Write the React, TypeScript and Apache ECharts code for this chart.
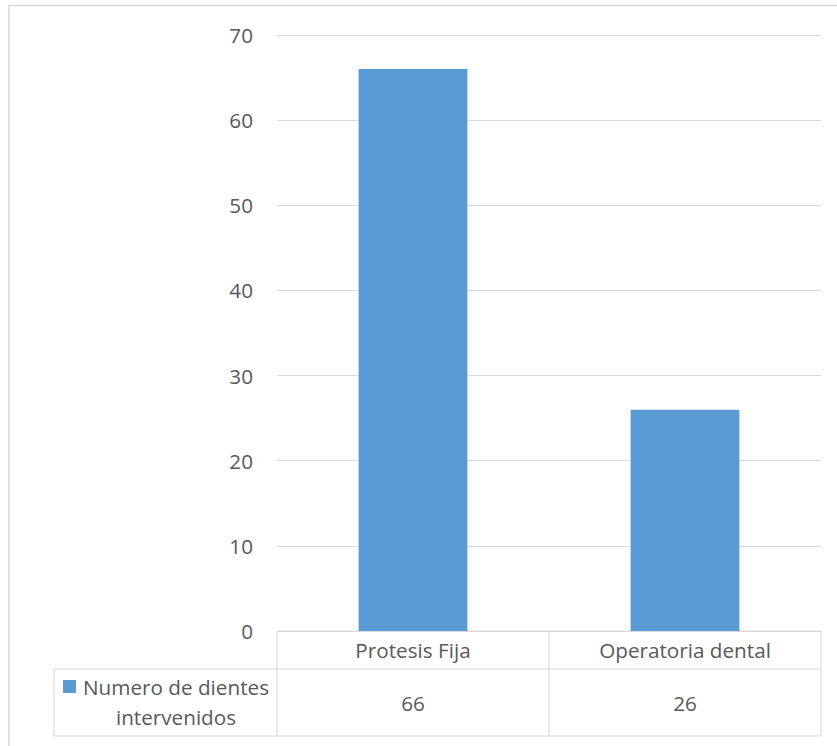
import React, { useEffect, useRef } from "react";
import * as echarts from "echarts";

// Chart data
const categories = ["Protesis Fija", "Operatoria dental"];
const seriesName = "Numero de dientes intervenidos";
const legendLines = ["Numero de dientes", "intervenidos"];
const values = [66, 26];
const yMin = 0;
const yMax = 70;
const yInterval = 10;

const FONT = "'Open Sans', 'Noto Sans', sans-serif";
const TEXT = "#595959";
const LINE = "#D9D9D9";
const BAR = "#5B9BD5";
const FS = 20.7;

export default function App() {
  const ref = useRef<HTMLDivElement>(null);

  useEffect(() => {
    const chart = echarts.init(ref.current!, null, { renderer: "svg" });
    chart.setOption({
      animation: false,
      backgroundColor: "#ffffff",
      grid: { left: 277, right: 16, top: 35, bottom: 115, containLabel: false },
      xAxis: {
        type: "category",
        data: categories,
        axisLine: { show: true, lineStyle: { color: LINE, width: 1 } },
        axisTick: { show: false },
        axisLabel: { show: false },
        splitLine: { show: false },
      },
      yAxis: {
        type: "value",
        min: yMin,
        max: yMax,
        interval: yInterval,
        axisLine: { show: false },
        axisTick: { show: false },
        axisLabel: { color: TEXT, fontFamily: FONT, fontSize: FS, margin: 24 },
        splitLine: { show: true, lineStyle: { color: LINE, width: 1 } },
      },
      series: [
        {
          name: seriesName,
          type: "bar",
          data: values,
          barCategoryGap: "60%",
          itemStyle: { color: BAR },
        },
      ],
    });

    // Data table under the plot, positioned from the axes
    const xs = categories.map(
      (c) => chart.convertToPixel({ xAxisIndex: 0 }, c) as number
    );
    const half = categories.length > 1 ? (xs[1] - xs[0]) / 2 : 136;
    const tableTop = chart.convertToPixel({ yAxisIndex: 0 }, 0) as number;
    const rowMid = tableTop + 38;
    const rowBottom = tableTop + 105;
    const left = xs[0] - half;
    const right = xs[xs.length - 1] + half;
    const legendLeft = 54;

    const lineStyle = { stroke: LINE, lineWidth: 1.2 };
    const elements: any[] = [];
    const hLine = (x1: number, x2: number, y: number) =>
      elements.push({ type: "line", shape: { x1, y1: y, x2, y2: y }, style: lineStyle, silent: true });
    const vLine = (x: number, y1: number, y2: number) =>
      elements.push({ type: "line", shape: { x1: x, y1, x2: x, y2 }, style: lineStyle, silent: true });

    // outer chart frame
    elements.push({
      type: "rect",
      shape: { x: 9, y: 5.5, width: 1000, height: 1000 },
      style: { fill: "none", stroke: LINE, lineWidth: 1.5 },
      silent: true,
    });

    hLine(left, right, tableTop);
    hLine(legendLeft, right, rowMid);
    hLine(legendLeft, right, rowBottom);
    vLine(legendLeft, rowMid, rowBottom);
    vLine(left, tableTop, rowBottom);
    xs.forEach((x) => vLine(x + half, tableTop, rowBottom));

    categories.forEach((c, i) => {
      elements.push({
        type: "text",
        x: xs[i],
        y: (tableTop + rowMid) / 2,
        style: { text: c, fill: TEXT, font: `${FS}px ${FONT}`, align: "center", verticalAlign: "middle" },
      });
      elements.push({
        type: "text",
        x: xs[i],
        y: (rowMid + rowBottom) / 2,
        style: { text: String(values[i]), fill: TEXT, font: `${FS}px ${FONT}`, align: "center", verticalAlign: "middle" },
      });
    });

    // legend key cell
    elements.push({
      type: "rect",
      shape: { x: 63, y: rowMid + 11, width: 13, height: 13 },
      style: { fill: BAR },
    });
    elements.push({
      type: "text",
      x: 83,
      y: rowMid + 18,
      style: { text: legendLines[0], fill: TEXT, font: `${FS}px ${FONT}`, align: "left", verticalAlign: "middle" },
    });
    elements.push({
      type: "text",
      x: 176,
      y: rowMid + 48,
      style: { text: legendLines[1], fill: TEXT, font: `${FS}px ${FONT}`, align: "center", verticalAlign: "middle" },
    });

    chart.setOption({ graphic: { elements } });

    return () => chart.dispose();
  }, []);

  return (
    <div
      ref={ref}
      style={{ position: "absolute", left: 0, top: 0, width: 837, height: 746 }}
    />
  );
}
